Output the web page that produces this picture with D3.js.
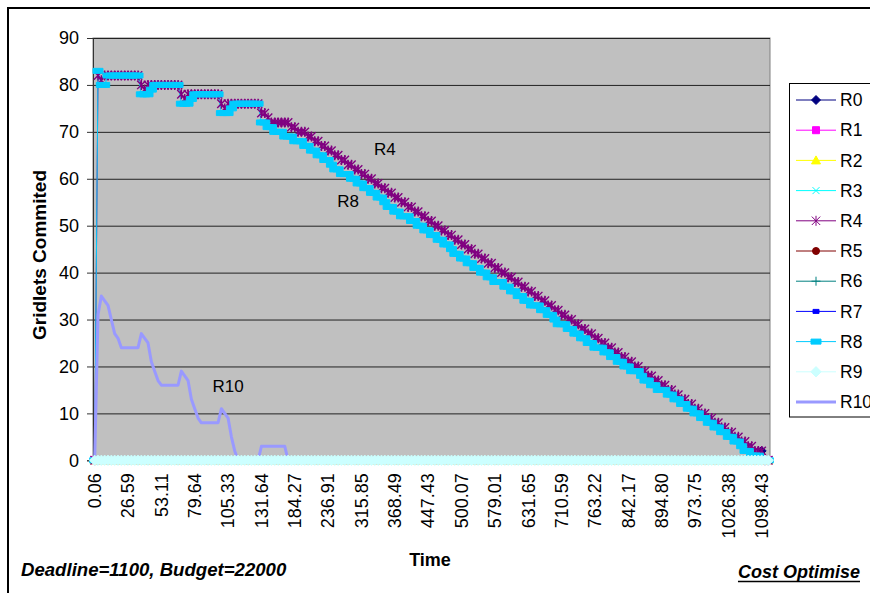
<!DOCTYPE html>
<html>
<head>
<meta charset="utf-8">
<script src="https://cdn.jsdelivr.net/npm/d3@7/dist/d3.min.js"></script>
<style>
  body { margin: 0; background: #fff; }
  svg { display: block; font-family: Arial, "Liberation Sans", sans-serif; }
</style>
</head>
<body>
<div id="chart"></div>
<script>
// category labels (time), one shown every 10 samples
const timeLabels = ["0.06", "26.59", "53.11", "79.64", "105.33", "131.64", "184.27", "236.91",
  "315.85", "368.49", "447.43", "500.07", "579.01", "631.65", "710.59", "763.22",
  "842.17", "894.80", "973.75", "1026.38", "1098.43"]
const labelEvery = 10

const seriesNames = ["R0", "R1", "R2", "R3", "R4", "R5", "R6", "R7", "R8", "R9", "R10"]

// gridlets committed per sample
const r4 = [
  0, 82, 81, 82, 82, 82, 82, 82, 82, 82,
  82, 82, 82, 82, 80, 79, 80, 80, 80, 80,
  80, 80, 80, 80, 80, 80, 78, 77, 78, 78,
  78, 78, 78, 78, 78, 78, 78, 78, 76, 75,
  76, 76, 76, 76, 76, 76, 76, 76, 76, 76,
  74, 74, 73, 72, 72, 72, 72, 72, 72, 71,
  71, 70, 70, 70, 69, 69, 68, 68, 67, 67,
  66, 66, 65, 65, 64, 64, 63, 63, 62, 62,
  61, 61, 60, 60, 59, 59, 58, 58, 57, 57,
  56, 56, 55, 55, 54, 54, 53, 53, 52, 52,
  51, 51, 50, 50, 49, 49, 48, 48, 47, 47,
  46, 46, 45, 45, 44, 44, 43, 43, 42, 42,
  41, 41, 40, 40, 39, 39, 38, 38, 37, 37,
  36, 36, 35, 35, 34, 34, 33, 33, 32, 32,
  31, 31, 30, 30, 29, 29, 28, 28, 27, 27,
  26, 26, 25, 25, 24, 24, 23, 23, 22, 22,
  21, 21, 20, 20, 19, 19, 18, 18, 17, 17,
  16, 16, 15, 15, 14, 14, 13, 13, 12, 12,
  11, 11, 10, 10, 9, 9, 8, 8, 7, 7,
  6, 6, 5, 5, 4, 4, 3, 3, 2, 2,
  2, 0, 0]

const r8 = [
  0, 83, 80, 80, 82, 82, 82, 82, 82, 82,
  82, 82, 82, 82, 78, 78, 78, 79, 80, 80,
  80, 80, 80, 80, 80, 80, 76, 76, 76, 77,
  78, 78, 78, 78, 78, 78, 78, 78, 74, 74,
  74, 75, 76, 76, 76, 76, 76, 76, 76, 76,
  72, 72, 71, 71, 70, 70, 70, 69, 69, 69,
  68, 68, 68, 67, 67, 66, 66, 65, 65, 64,
  64, 63, 62, 62, 61, 61, 61, 60, 60, 59,
  59, 58, 58, 57, 57, 56, 56, 55, 54, 54,
  53, 53, 52, 52, 52, 51, 51, 50, 50, 49,
  49, 48, 48, 47, 47, 46, 46, 45, 44, 44,
  43, 43, 42, 42, 41, 41, 40, 40, 39, 39,
  38, 38, 38, 37, 37, 36, 36, 35, 35, 34,
  34, 33, 33, 33, 32, 32, 31, 31, 30, 29,
  29, 29, 28, 28, 27, 27, 26, 26, 25, 25,
  24, 24, 24, 23, 23, 22, 22, 21, 21, 20,
  20, 19, 19, 19, 18, 17, 17, 16, 16, 15,
  15, 15, 14, 14, 13, 13, 12, 12, 11, 11,
  10, 10, 9, 9, 8, 8, 7, 7, 6, 6,
  5, 5, 4, 4, 3, 2, 2, 1, 1, 1,
  0, 0, 0]

// R10 only has work early on, then stays at 0
const r10Start = [
  0, 31, 35, 34, 33, 30, 27, 26, 24, 24,
  24, 24, 24, 24, 27, 26, 25, 21, 19, 17,
  16, 16, 16, 16, 16, 16, 19, 18, 17, 13,
  11, 9, 8, 8, 8, 8, 8, 8, 11, 10,
  9, 5, 2, 0, 0, 0, 0, 0, 0, 0,
  3, 3, 3, 3, 3, 3, 3, 3, 0, 0]

const N = r4.length
// the other resources sit on the zero line the whole run
const zeros = d3.range(N).map(() => 0)
const r0 = zeros.slice()
r0[200] = 2
const r10 = r10Start.concat(zeros.slice(r10Start.length))

const seriesValues = [r0, zeros, zeros, zeros, r4, zeros, zeros, zeros, r8, zeros, r10]

const colors = ["#000080", "#FF00FF", "#FFFF00", "#00FFFF", "#800080", "#800000",
  "#008080", "#0000FF", "#00CCFF", "#CCFFFF", "#9999FF"]
const markers = ["diamond", "square", "triangle", "x", "star", "circle",
  "plus", "dash", "bar", "bigdiamond", null]

const markerPaths = {
  diamond: "M0,-4.5L4.5,0L0,4.5L-4.5,0Z",
  square: "M-3.5,-3.5h7v7h-7Z",
  triangle: "M0,-4.5L4.5,3.5H-4.5Z",
  x: "M-3.5,-3.5L3.5,3.5M-3.5,3.5L3.5,-3.5",
  star: "M-4.2,-4.2L4.2,4.2M-4.2,4.2L4.2,-4.2M0,-5V5",
  circle: "M3.5,0A3.5,3.5 0 1,1 -3.5,0A3.5,3.5 0 1,1 3.5,0Z",
  plus: "M-4.5,0H4.5M0,-4.5V4.5",
  dash: "M-3,-2h6v4h-6Z",
  bar: "M-5,-2.5h10v5h-10Z",
  bigdiamond: "M0,-5.2L5.2,0L0,5.2L-5.2,0Z"
}
const strokeOnly = {x: true, star: true, plus: true}

const annotations = [
  {text: "R4", cat: 87, value: 65},
  {text: "R8", cat: 76, value: 54},
  {text: "R10", cat: 40, value: 14.5}
]

const W = 870, H = 593
const box = {left: 93, top: 38, right: 770, bottom: 460.3}

const svg = d3.select("#chart").append("svg").attr("width", W).attr("height", H)

svg.append("rect").attr("x", 8).attr("y", 8).attr("width", 900).attr("height", 620)
  .attr("fill", "#fff").attr("stroke", "#000").attr("stroke-width", 2)

const x = d3.scaleBand().domain(d3.range(N)).range([box.left, box.right]).padding(0)
const cx = i => x(i) + x.bandwidth() / 2
const y = d3.scaleLinear().domain([0, 90]).range([box.bottom, box.top])

// plot area
svg.append("rect").attr("x", box.left).attr("y", box.top)
  .attr("width", box.right - box.left).attr("height", box.bottom - box.top)
  .attr("fill", "#C0C0C0").attr("stroke", "#808080").attr("stroke-width", 1)

svg.append("g")
  .attr("transform", `translate(${box.left},0)`)
  .call(d3.axisLeft(y).tickValues(d3.range(10, 91, 10)).tickSize(-(box.right - box.left)).tickFormat(""))
  .call(g => g.select(".domain").remove())
  .call(g => g.selectAll("line").attr("stroke", "#222").attr("stroke-width", 1))

const yAxis = svg.append("g")
  .attr("transform", `translate(${box.left},0)`)
  .call(d3.axisLeft(y).tickValues(d3.range(0, 91, 10)).tickSize(6).tickPadding(8))
yAxis.select(".domain").attr("stroke", "#333")
yAxis.selectAll("line").attr("stroke", "#333")
yAxis.selectAll("text").attr("font-size", 18).attr("fill", "#000")
  .attr("font-family", "Arial, 'Liberation Sans', sans-serif")

const xAxis = svg.append("g")
  .attr("transform", `translate(0,${box.bottom})`)
  .call(d3.axisBottom(x).tickValues(d3.range(0, N, labelEvery)).tickSize(0)
    .tickFormat(i => timeLabels[i / labelEvery]))
xAxis.select(".domain").attr("stroke", "#333")
xAxis.selectAll("text")
  .attr("font-size", 18).attr("fill", "#000")
  .attr("font-family", "Arial, 'Liberation Sans', sans-serif")
  .attr("text-anchor", "end")
  .attr("transform", "rotate(-90)")
  .attr("x", -13).attr("y", 0).attr("dy", "0.35em")

// lines first, markers on top, like the spreadsheet draws them
const lineGen = d3.line().x((d, i) => cx(i)).y(d => y(d))
const lines = svg.append("g")
seriesValues.forEach((vals, s) => {
  lines.append("path")
    .attr("d", lineGen(vals))
    .attr("fill", "none")
    .attr("stroke", colors[s])
    .attr("stroke-width", s === 10 ? 3 : 1)
    .attr("stroke-linejoin", "round")
})

const marks = svg.append("g")
seriesValues.forEach((vals, s) => {
  const m = markers[s]
  if (!m) return
  marks.append("g").selectAll("path").data(vals).join("path")
    .attr("transform", (d, i) => `translate(${cx(i)},${y(d)})`)
    .attr("d", markerPaths[m])
    .attr("fill", strokeOnly[m] ? "none" : colors[s])
    .attr("stroke", colors[s])
    .attr("stroke-width", m === "star" ? 1.4 : 1)
})

svg.append("g").selectAll("text").data(annotations).join("text")
  .attr("x", d => cx(d.cat)).attr("y", d => y(d.value))
  .attr("text-anchor", "middle")
  .attr("font-size", 17)
  .text(d => d.text)

// titles
svg.append("text").attr("transform", "translate(46,255) rotate(-90)")
  .attr("text-anchor", "middle").attr("font-size", 19).attr("font-weight", "bold")
  .text("Gridlets Commited")
svg.append("text").attr("x", 430).attr("y", 566)
  .attr("text-anchor", "middle").attr("font-size", 18).attr("font-weight", "bold")
  .text("Time")
svg.append("text").attr("x", 21).attr("y", 576)
  .attr("font-size", 18.6).attr("font-weight", "bold").attr("font-style", "italic")
  .text("Deadline=1100, Budget=22000")
const cost = svg.append("text").attr("x", 860).attr("y", 578)
  .attr("text-anchor", "end")
  .attr("font-size", 18).attr("font-weight", "bold").attr("font-style", "italic")
  .text("Cost Optimise")
const cb = cost.node().getBBox()
svg.append("line").attr("x1", cb.x).attr("x2", cb.x + cb.width)
  .attr("y1", 581.5).attr("y2", 581.5).attr("stroke", "#000").attr("stroke-width", 1.5)

// legend
const legend = svg.append("g")
legend.append("rect").attr("x", 789.5).attr("y", 83.5).attr("width", 110).attr("height", 333.5)
  .attr("fill", "#fff").attr("stroke", "#000").attr("stroke-width", 1)
seriesNames.forEach((name, s) => {
  const ly = 100 + s * 30.2
  const g = legend.append("g").attr("transform", `translate(0,${ly})`)
  g.append("line").attr("x1", 796).attr("x2", 836).attr("y1", 0).attr("y2", 0)
    .attr("stroke", colors[s]).attr("stroke-width", s === 10 ? 3 : 1)
  const m = markers[s]
  if (m) {
    g.append("path").attr("transform", "translate(816,0)").attr("d", markerPaths[m])
      .attr("fill", strokeOnly[m] ? "none" : colors[s]).attr("stroke", colors[s])
  }
  g.append("text").attr("x", 840).attr("y", 0).attr("dy", "0.35em")
    .attr("font-size", 17.5).text(name)
})
</script>
</body>
</html>
